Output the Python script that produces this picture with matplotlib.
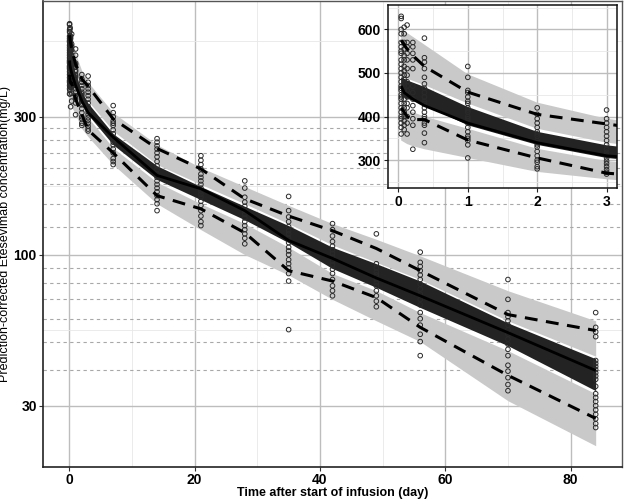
import numpy as np
import matplotlib
matplotlib.use("Agg")
import matplotlib.pyplot as plt
from matplotlib.ticker import FixedLocator, NullFormatter, FixedFormatter

plt.rcParams['font.family'] = ['Liberation Sans', 'DejaVu Sans']

# ---------------- data ----------------
bin_time = [0.04, 0.083, 0.125, 0.208, 0.375, 1, 2, 3, 7, 14, 21, 28, 35, 42, 49, 56, 70, 84]
obs_p95 = [575, 565, 555, 540, 515, 456, 405, 383, 295, 233, 198, 156, 136, 121, 105, 88, 62, 54.6]
obs_p50 = [470, 455, 450, 440, 425, 385, 340, 310, 255, 188, 169, 142, 112, 97, 83, 72, 53.7, 39.7]
obs_p05 = [420, 410, 400, 393, 393, 346, 305, 270, 225, 160, 144, 119, 88, 81, 71, 56, 38.2, 27.1]

sim95_hi = [605, 598, 592, 583, 565, 497, 432, 395, 310, 240, 200, 172, 148, 128, 113, 99, 75, 59]
sim95_lo = [495, 490, 487, 482, 472, 430, 372, 340, 268, 205, 175, 150, 128, 108, 94, 82, 59, 44.5]
sim50_hi = [490, 487, 483, 478, 468, 422, 365, 334, 262, 203, 172, 147, 126, 106, 93, 81, 58, 43.6]
sim50_lo = [448, 445, 441, 436, 427, 380, 335, 305, 240, 182, 155, 132, 110, 89.5, 77, 65.6, 48.4, 33.8]
sim05_hi = [425, 420, 416, 410, 400, 372, 326, 298, 234, 178, 150, 128, 106, 86, 75, 63, 46.5, 33]
sim05_lo = [345, 341, 337, 332, 325, 305, 273, 256, 205, 150, 122, 100, 85, 70, 59, 50, 31.2, 21.8]

obs_points = {
    0.04: [630, 625, 600, 590, 570, 560, 550, 545, 530, 520, 510, 500, 490, 480, 470, 465,
           460, 450, 445, 440, 430, 420, 410, 400, 395, 385, 375, 360],
    0.083: [605, 590, 570, 555, 540, 530, 515, 505, 495, 485, 478, 470, 460, 450, 440, 430,
            420, 410, 400, 390, 380, 370],
    0.125: [610, 570, 560, 545, 530, 510, 495, 480, 470, 460, 450, 445, 430, 420, 400, 385, 360],
    0.208: [570, 560, 545, 530, 510, 470, 455, 440, 425, 410, 395, 380, 325],
    0.375: [580, 535, 525, 510, 490, 475, 465, 455, 445, 435, 430, 420, 410, 400, 395, 385,
            380, 362, 340],
    1: [515, 490, 460, 455, 445, 435, 430, 420, 415, 410, 400, 395, 390, 385, 375, 365, 355,
        350, 345, 335, 305],
    2: [420, 405, 395, 385, 375, 365, 360, 355, 345, 340, 335, 330, 320, 310, 300, 295, 285, 280],
    3: [415, 395, 385, 375, 365, 355, 345, 335, 325, 318, 312, 305, 298, 292, 285, 278, 272, 268],
    7: [328, 310, 300, 290, 285, 280, 270, 262, 255, 250, 245, 240, 232, 225, 215, 210, 205],
    14: [252, 245, 238, 232, 225, 218, 210, 203, 197, 190, 185, 180, 175, 170, 165, 160, 155,
         150, 142],
    21: [220, 212, 205, 198, 190, 185, 180, 175, 170, 166, 162, 158, 153, 148, 142, 136, 130, 126],
    28: [180, 170, 158, 152, 147, 142, 138, 134, 130, 126, 122, 118, 114, 109],
    35: [159, 142, 135, 130, 125, 121, 118, 114, 110, 106, 103, 100, 96, 93, 90, 86, 81, 55],
    42: [128, 122, 116, 111, 107, 104, 101, 98, 95, 92, 89, 86, 82, 78, 75, 72],
    49: [118, 93, 90, 87, 85, 82, 80, 78, 75, 72, 69, 66],
    56: [102, 94, 91, 88, 85, 82, 79, 76, 73, 70, 67, 63, 60, 57, 53, 50, 44.7],
    70: [82, 70, 63, 61, 59, 57, 55, 53, 51, 49, 47, 44.7, 41.4, 39.5, 37.5, 35.5, 33.8],
    84: [63, 56, 54, 52, 43, 42, 41, 40, 39, 38, 37, 35, 33, 32, 31, 30, 29, 28, 27, 26, 25.2],
}

ref_lines = [40, 50, 60, 70, 80, 90, 125, 150, 175, 200, 225, 250, 275]

main_xticks = [0, 20, 40, 60, 80]
main_yticks = [30, 100, 300]
inset_xticks = [0, 1, 2, 3]
inset_yticks = [300, 400, 500, 600]

x_label = "Time after start of infusion (day)"
y_label = "Prediction-corrected Etesevimab concentration(mg/L)"

# ---------------- styling ----------------
LIGHT = "#c9c9c9"
DARK = "#232323"
MAJ = "#bdbdbd"
MIN = "#e8e8e8"
DASH = (0, (4.2, 2.8))


def draw_vpc(ax, tmax=None):
    t = np.array(bin_time)
    ax.fill_between(t, sim95_lo, sim95_hi, color=LIGHT, lw=0, zorder=2)
    ax.fill_between(t, sim05_lo, sim05_hi, color=LIGHT, lw=0, zorder=2)
    ax.fill_between(t, sim50_lo, sim50_hi, color=DARK, lw=0, zorder=3)
    for tt, vals in obs_points.items():
        if tmax is not None and tt > tmax:
            continue
        ax.scatter([tt] * len(vals), vals, s=11, facecolors="none", edgecolors="#2a2a2a",
                   linewidths=0.7, zorder=4)
    ax.plot(t, obs_p50, color="black", lw=2.0, zorder=5, solid_capstyle="butt")
    ax.plot(t, obs_p95, color="black", lw=2.2, ls=DASH, zorder=5)
    ax.plot(t, obs_p05, color="black", lw=2.2, ls=DASH, zorder=5)


fig = plt.figure(figsize=(6.25, 5.0), dpi=100)

# ---------------- main panel ----------------
ax = fig.add_axes([43 / 625, 1 - 467 / 500, (622 - 43) / 625, (467 - 1) / 500])
ax.set_yscale("log")
ax.set_xlim(-4.2, 88.2)
ax.set_ylim(18.4, 755)

ax.xaxis.set_major_locator(FixedLocator(main_xticks))
ax.xaxis.set_minor_locator(FixedLocator([10, 30, 50, 70]))
ax.yaxis.set_major_locator(FixedLocator(main_yticks))
ax.yaxis.set_minor_locator(FixedLocator([54.77, 173.2, 547.7]))
ax.yaxis.set_major_formatter(FixedFormatter([str(v) for v in main_yticks]))
ax.yaxis.set_minor_formatter(NullFormatter())
ax.xaxis.set_major_formatter(FixedFormatter([str(v) for v in main_xticks]))

ax.grid(which="major", color=MAJ, lw=1.0, zorder=0)
ax.grid(which="minor", color=MIN, lw=0.6, zorder=0)
ax.set_axisbelow(True)
for v in ref_lines:
    ax.axhline(v, color="#a8a8a8", lw=0.8, ls=(0, (3, 3)), zorder=1)

draw_vpc(ax)

ax.tick_params(which="major", length=3, width=0.8, color="#333333", labelsize=10, pad=1.5)
ax.tick_params(which="minor", length=0)
for lab in ax.get_xticklabels() + ax.get_yticklabels():
    lab.set_fontweight("bold")
    lab.set_color("black")
for s in ["top", "right"]:
    ax.spines[s].set_color("#555555")
    ax.spines[s].set_linewidth(1.0)
for s in ["left", "bottom"]:
    ax.spines[s].set_color("#222222")
    ax.spines[s].set_linewidth(1.2)

ax.set_xlabel(x_label, fontsize=9, fontweight="bold", labelpad=0)
ax.set_ylabel(y_label, fontsize=9, labelpad=1)
ax.yaxis.set_label_coords(-0.055, 0.5)

# ---------------- inset ----------------
ai = fig.add_axes([388 / 625, 1 - 188 / 500, (617 - 388) / 625, (188 - 5) / 500])
ai.set_xlim(-0.15, 3.15)
ai.set_ylim(236, 656)
ai.xaxis.set_major_locator(FixedLocator(inset_xticks))
ai.xaxis.set_minor_locator(FixedLocator([0.5, 1.5, 2.5]))
ai.yaxis.set_major_locator(FixedLocator(inset_yticks))
ai.yaxis.set_minor_locator(FixedLocator([250, 350, 450, 550, 650]))
ai.grid(which="major", color=MAJ, lw=1.0, zorder=0)
ai.grid(which="minor", color=MIN, lw=0.6, zorder=0)
ai.set_axisbelow(True)
ai.set_facecolor("white")
draw_vpc(ai, tmax=3.5)
ai.tick_params(which="major", length=3, width=0.8, color="#222222", labelsize=10, pad=2)
ai.tick_params(which="minor", length=0)
for lab in ai.get_xticklabels() + ai.get_yticklabels():
    lab.set_fontweight("bold")
for s in ai.spines.values():
    s.set_color("#111111")
    s.set_linewidth(1.1)

fig.savefig("out.png", dpi=100)
